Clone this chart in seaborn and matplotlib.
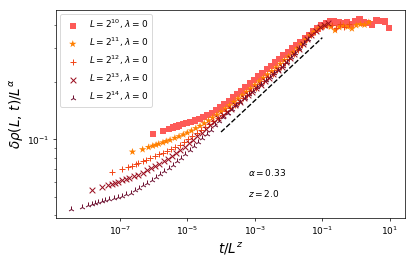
import numpy as np
import matplotlib
matplotlib.use("Agg")
import matplotlib.pyplot as plt
import matplotlib.ticker as mticker
import seaborn as sns

# scaling exponents used for the collapse
alpha = 0.33
z = 2.0

# system sizes L = 2**n
L_exponents = [10, 11, 12, 13, 14]

# time steps (shared by every run)
t_steps = [1, 2, 3, 4, 5, 6, 8, 10, 13, 18, 24, 32, 42, 56, 75,
           100, 133, 178, 237, 316, 422, 562, 750,
           1000, 1334, 1778, 2371, 3162, 4217, 5623, 7499,
           10000, 13335, 17783, 23714, 31623, 42170, 56234, 74989,
           100000, 133352, 177828, 237137, 316228, 421697, 562341, 749894,
           1000000, 1333521, 1778279, 2371374, 3162278, 4216965, 5623413, 7498942,
           10000000]

# delta rho(L, t) / L^alpha
rho_L10 = [0.1066, 0.1105, 0.1134, 0.1154, 0.1171, 0.1185, 0.1202, 0.1217, 0.1235, 0.1259,
           0.1283, 0.1308, 0.1339, 0.1380, 0.1427, 0.1474, 0.1530, 0.1591, 0.1657, 0.1727,
           0.1799, 0.1879, 0.1962, 0.2049, 0.2140, 0.2235, 0.2334, 0.2432, 0.2537, 0.2649,
           0.2764, 0.2882, 0.3006, 0.3128, 0.3251, 0.3391, 0.3538, 0.3677, 0.3813, 0.3957,
           0.4088, 0.4188, 0.4163, 0.4112, 0.4063, 0.4112, 0.4015, 0.4163, 0.4264, 0.4112,
           0.4088, 0.4015, 0.4213, 0.4188, 0.4163, 0.3849]
rho_L11 = [0.0861, 0.0886, 0.0910, 0.0925, 0.0936, 0.0947, 0.0963, 0.0978, 0.0993, 0.1017,
           0.1037, 0.1060, 0.1084, 0.1111, 0.1143, 0.1176, 0.1214, 0.1256, 0.1301, 0.1348,
           0.1396, 0.1451, 0.1508, 0.1571, 0.1637, 0.1704, 0.1775, 0.1849, 0.1932, 0.2017,
           0.2102, 0.2190, 0.2281, 0.2382, 0.2491, 0.2605, 0.2727, 0.2858, 0.2999, 0.3159,
           0.3330, 0.3512, 0.3664, 0.3799, 0.3891, 0.3957, 0.3896, 0.3735, 0.3873, 0.3943,
           0.3896, 0.3813, 0.3967, 0.4015, 0.3990, 0.4112]
rho_L12 = [0.0677, 0.0699, 0.0714, 0.0727, 0.0740, 0.0751, 0.0767, 0.0781, 0.0798, 0.0817,
           0.0834, 0.0852, 0.0870, 0.0892, 0.0915, 0.0939, 0.0970, 0.1002, 0.1039, 0.1076,
           0.1115, 0.1159, 0.1202, 0.1251, 0.1299, 0.1350, 0.1402, 0.1457, 0.1518, 0.1581,
           0.1648, 0.1714, 0.1788, 0.1866, 0.1948, 0.2030, 0.2115, 0.2206, 0.2304, 0.2409,
           0.2528, 0.2653, 0.2804, 0.2963, 0.3132, 0.3330, 0.3521, 0.3668, 0.3831, 0.3947,
           0.4000, 0.3967, 0.3826, 0.4015, 0.3873, 0.4039]
rho_L13 = [0.0543, 0.0565, 0.0576, 0.0585, 0.0590, 0.0598, 0.0609, 0.0617, 0.0626, 0.0641,
           0.0654, 0.0670, 0.0689, 0.0707, 0.0727, 0.0745, 0.0768, 0.0791, 0.0819, 0.0849,
           0.0879, 0.0916, 0.0954, 0.0996, 0.1041, 0.1085, 0.1134, 0.1184, 0.1236, 0.1291,
           0.1344, 0.1395, 0.1450, 0.1510, 0.1574, 0.1641, 0.1710, 0.1784, 0.1861, 0.1941,
           0.2025, 0.2112, 0.2203, 0.2301, 0.2406, 0.2534, 0.2662, 0.2814, 0.2977, 0.3166,
           0.3358, 0.3551, 0.3717, 0.3867, 0.3990, 0.4063]
rho_L14 = [0.0433, 0.0444, 0.0453, 0.0460, 0.0464, 0.0469, 0.0475, 0.0481, 0.0486, 0.0493,
           0.0499, 0.0507, 0.0516, 0.0526, 0.0541, 0.0557, 0.0575, 0.0594, 0.0614, 0.0635,
           0.0657, 0.0682, 0.0708, 0.0737, 0.0768, 0.0801, 0.0839, 0.0878, 0.0921, 0.0968,
           0.1017, 0.1070, 0.1125, 0.1184, 0.1247, 0.1308, 0.1373, 0.1439, 0.1507, 0.1576,
           0.1648, 0.1721, 0.1795, 0.1875, 0.1955, 0.2042, 0.2130, 0.2222, 0.2318, 0.2429,
           0.2559, 0.2691, 0.2845, 0.3010, 0.3189, 0.3382]

# reference power law t^(alpha/z), drawn between these scaled times
fit_range = [1e-4, 1e-1]
fit_amplitude = 0.5

series = [rho_L10, rho_L11, rho_L12, rho_L13, rho_L14]
markers = ["s", "*", "+", "x", "2"]
sizes = [50, 75, 50, 40, 45]
colors = ["#fd5a57", "#ff7f00", "#f2481b", "#9b0d1e", "#6d1030"]

fig = plt.figure(figsize=(415 / 65, 261 / 65), dpi=65)
ax = fig.add_axes([0.134, 0.164, 0.842, 0.798])

t = np.array(t_steps, dtype=float)
for n, rho, m, s, c in zip(L_exponents, series, markers, sizes, colors):
    L = 2.0 ** n
    kw = dict(edgecolor="none") if m in ("s", "*") else dict(linewidth=1.1)
    sns.scatterplot(x=t / L ** z, y=rho, marker=m, s=s, color=c, ax=ax,
                    label=rf"$L=2^{{{n}}}$, $\lambda=0$", **kw)

x_fit = np.array(fit_range)
sns.lineplot(x=x_fit, y=fit_amplitude * x_fit ** (alpha / z), color="black",
             linestyle="--", linewidth=1.5, ax=ax)

ax.set_xscale("log")
ax.set_yscale("log")
ax.xaxis.set_major_locator(mticker.LogLocator(base=10, numticks=6))
ax.xaxis.set_minor_locator(mticker.NullLocator())

ax.text(0.55, 0.217, rf"$\alpha={alpha}$", transform=ax.transAxes, fontsize=10, va="center")
ax.text(0.55, 0.117, rf"$z={z}$", transform=ax.transAxes, fontsize=10, va="center")

ax.set_xlabel(r"$t/L^z$", fontsize=15)
ax.set_ylabel(r"$\delta\rho(L,\,t)/L^{\alpha}$", fontsize=15, labelpad=1)
ax.legend(loc="upper left", fontsize=10)

fig.savefig("out.png", dpi=65)
